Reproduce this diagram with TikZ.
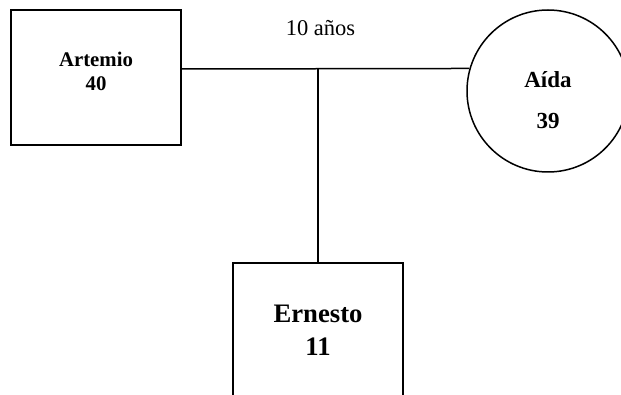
\documentclass[tikz,border=0pt]{standalone}
\usepackage{fontspec}
\setmainfont{Liberation Serif}
\begin{document}
\begin{tikzpicture}[x=1pt,y=-1pt,line width=1.5pt,
  person/.style={draw,inner sep=0pt,minimum width=170pt},
  lblsmall/.style={anchor=base,inner sep=0pt,font=\bfseries\fontsize{20.8}{24}\selectfont},
  lblmid/.style={anchor=base,inner sep=0pt,font=\bfseries\fontsize{23}{26}\selectfont},
  lblbig/.style={anchor=base,inner sep=0pt,font=\bfseries\fontsize{26.7}{30}\selectfont},
  note/.style={anchor=base,inner sep=0pt,font=\fontsize{22.5}{26}\selectfont}]
\useasboundingbox (0,0) rectangle (621,395);
\clip (0,0) rectangle (621,395);
\node[person,minimum height=135pt] (artemio) at (96,77.5) {};
\node[lblsmall] (artemioname) at (96,67) {Artemio};
\node[lblsmall] (artemioage) at (96,91) {40};
\node[draw,circle,inner sep=0pt,minimum size=162pt] (aida) at (548,91) {};
\node[lblmid] (aidaname) at (548,88) {Aída};
\node[lblmid] (aidaage) at (548,129) {39};
\node[person,minimum height=160pt] (ernesto) at (318,343) {};
\node[lblbig] (ernestoname) at (318,323) {Ernesto};
\node[lblbig] (ernestoage) at (318,355) {11};
\node[note] (years) at (320.5,36) {10 años};
\coordinate (j) at (318,69);
\draw (artemio.east |- j) -- (aida.164.2);
\draw (j) -- (ernesto.north);
\end{tikzpicture}
\end{document}
